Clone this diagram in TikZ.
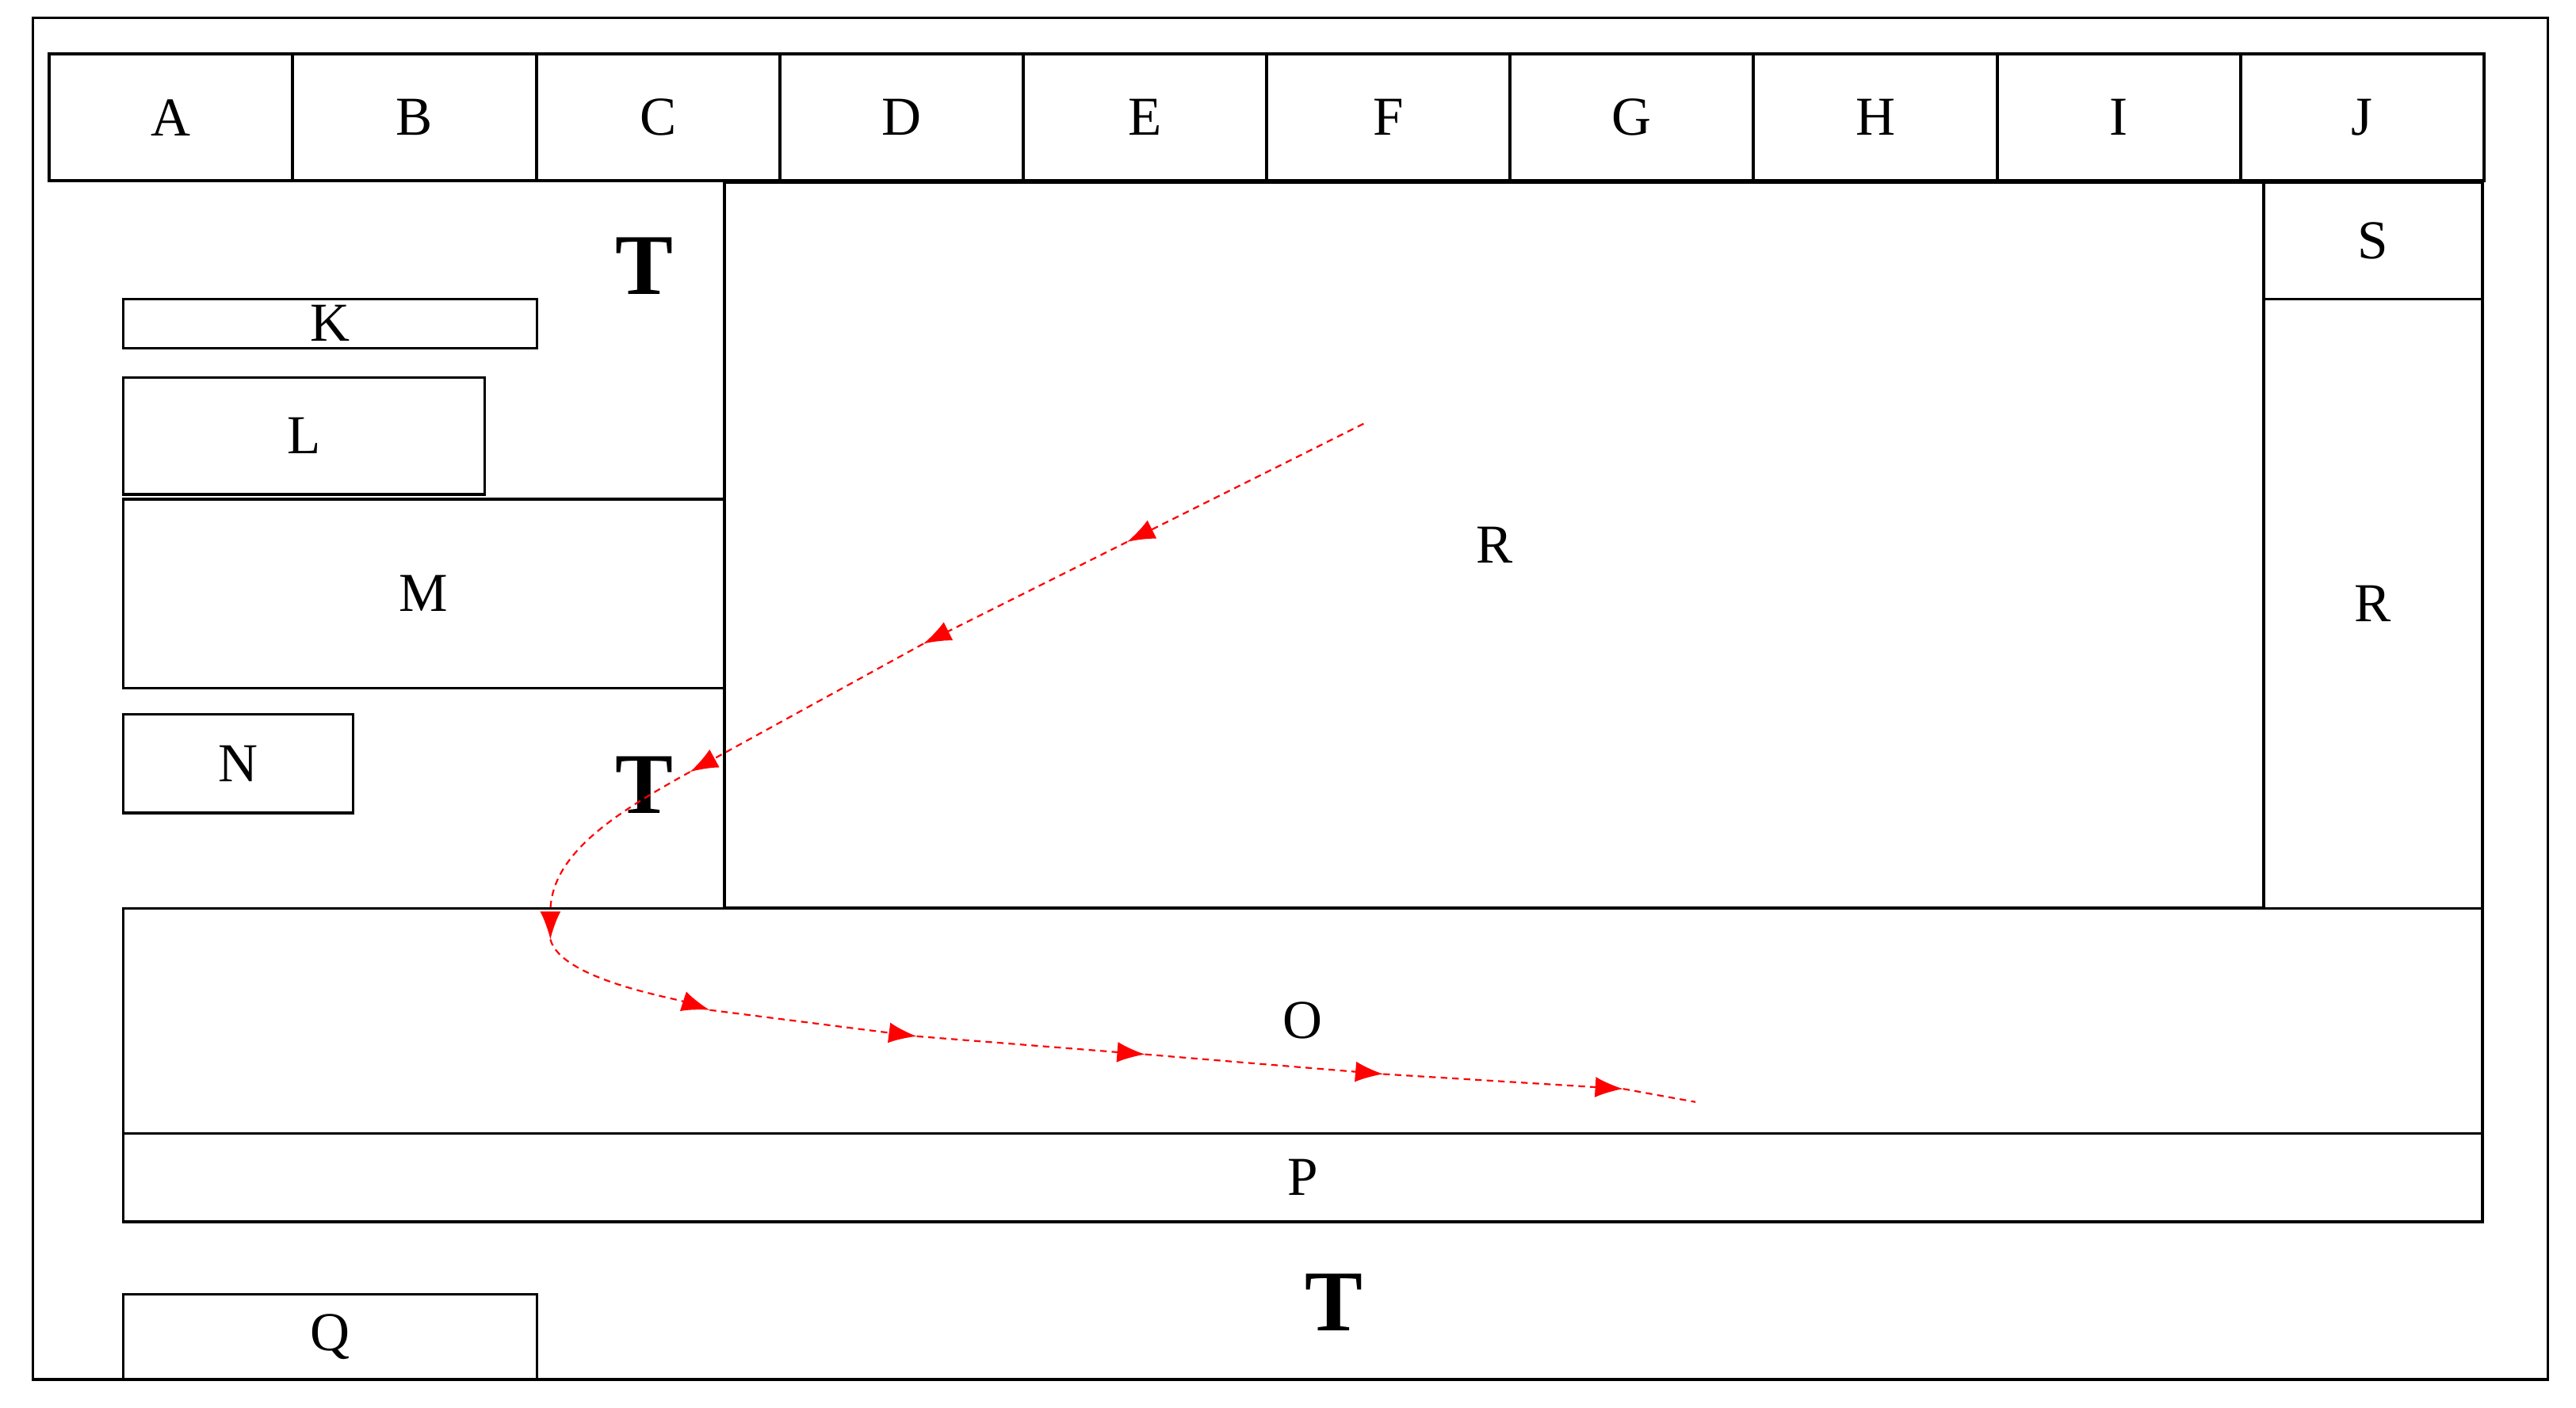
\documentclass[tikz,border=0pt]{standalone}
\usepackage{fontspec}
\setmainfont{Liberation Serif}
\usetikzlibrary{arrows.meta}

\begin{document}
\begin{tikzpicture}[
	box/.style={draw, line width=0.9pt, inner sep=0pt, outer sep=0pt, anchor=south west, font=\fontsize{19}{22}\selectfont},
	bigT/.style={font=\fontsize{30}{33}\selectfont\bfseries},
	flow/.style={red, line width=0.6pt, dash pattern=on 0.8mm off 0.6mm, -{Latex[length=3.4mm,width=2.5mm]}}
	]
		\useasboundingbox (0,0) rectangle (31.36,17.14);
		\draw[line width=0.9pt] (0.40,0.34) rectangle (31.02,16.92);
		% top row
		\foreach \lab [count=\i from 0] in {A,B,C,D,E,F,G,H,I,J}
			\node[box, line width=1.1pt, minimum width=2.964cm, minimum height=1.54cm](\lab) at (0.60+2.964*\i,14.94){\lab};
		% centre and right
		\node[box, line width=1.1pt, minimum width=18.74cm, minimum height=8.84cm](Rmain) at (8.82,6.08){R};
		\node[box, minimum width=2.66cm, minimum height=1.42cm](S) at (27.56,13.50){S};
		\node[box, minimum width=2.66cm, minimum height=7.42cm](Rside) at (27.56,6.08){R};
		% left column
		\node[box, minimum width=5.04cm, minimum height=0.60cm](K) at (1.50,12.90){K};
		\node[box, minimum width=4.40cm, minimum height=1.42cm](L) at (1.50,11.12){L};
		\node[box, minimum width=7.32cm, minimum height=2.30cm](M) at (1.50,8.76){M};
		\node[box, minimum width=2.80cm, minimum height=1.20cm](N) at (1.50,7.24){N};
		% bottom bands
		\node[box, minimum width=28.72cm, minimum height=2.74cm](O) at (1.50,3.34){O};
		\node[box, minimum width=28.72cm, minimum height=1.08cm](P) at (1.50,2.26){P};
		\node[box, minimum width=5.04cm, minimum height=1.04cm](Q) at (1.50,0.34){Q};
		% T marks
		\node[bigT](T1) at (7.84,13.90){T};
		\node[bigT](T2) at (7.84,7.58){T};
		\node[bigT](T3) at (16.24,1.28){T};
		% flow path
		\coordinate (s0) at (16.60,11.98);
		\coordinate (a1) at (13.72,10.54);
		\coordinate (a2) at (11.24,9.30);
		\coordinate (a3) at (8.40,7.74);
		\coordinate (a4) at (6.70,5.70);
		\coordinate (a5) at (8.64,4.84);
		\coordinate (a6) at (11.16,4.52);
		\coordinate (a7) at (13.94,4.30);
		\coordinate (a8) at (16.84,4.06);
		\coordinate (a9) at (19.76,3.88);
		\coordinate (e) at (20.64,3.72);
		\draw[flow] (s0) -- (a1);
		\draw[flow] (a1) -- (a2);
		\draw[flow] (a2) -- (a3);
		\draw[flow] (a3) to[out=209, in=90] (a4);
		\draw[flow] (a4) to[out=285, in=162, looseness=0.6] (a5);
		\draw[flow] (a5) -- (a6);
		\draw[flow] (a6) -- (a7);
		\draw[flow] (a7) -- (a8);
		\draw[flow] (a8) -- (a9);
		\draw[flow, -] (a9) -- (e);
	\end{tikzpicture}
\end{document}
